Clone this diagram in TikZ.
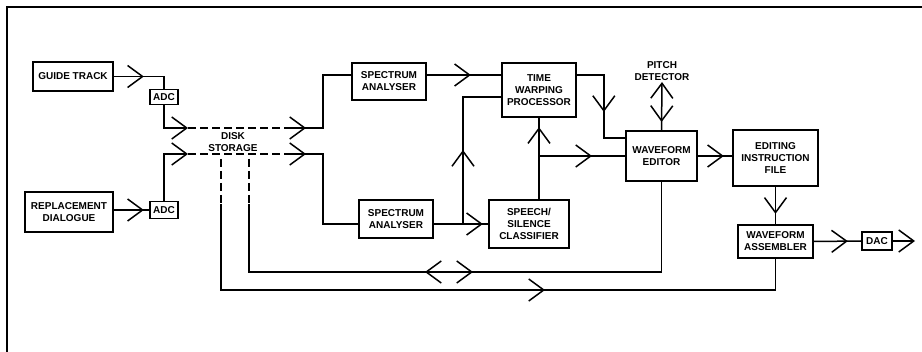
\documentclass[tikz,border=0pt]{standalone}
\usepackage{fontspec}
\setmainfont{Liberation Sans}
\usepackage{tikz}
\usetikzlibrary{arrows.meta, decorations.markings}
\newcommand{\blockfont}{\fontsize{10}{12}\selectfont\bfseries}

\begin{document}
\begin{tikzpicture}[
  x=1pt, y=-1pt,
  chev/.tip={Straight Barb[length=15pt, width=22pt]},
  box/.style={draw, line width=1.7pt, align=center, font=\blockfont, inner sep=1pt},
  lbl/.style={align=center, font=\blockfont, inner sep=1pt},
  dline/.style={line width=1.5pt, dash pattern=on 8pt off 4pt},
  midchev/.style={postaction={decorate}, decoration={markings, mark=at position #1 with {\arrow{chev}}}},
  every path/.style={line width=1.5pt}
]
  \useasboundingbox (0,0) rectangle (922,352);
  % Frame
  \draw[line width=2.4pt] (7,352) -- (7,7) -- (922,7);

  % Nodes
  \node[box, minimum width=80pt, minimum height=29pt] (gt) at (73,76.5) {GUIDE TRACK};
  \node[box, minimum width=28pt, minimum height=15pt] (adc1) at (164,97) {ADC};
  \node[box, minimum width=88pt, minimum height=40pt] (rd) at (69,212) {REPLACEMENT\\DIALOGUE};
  \node[box, minimum width=28pt, minimum height=17pt] (adc2) at (164,210) {ADC};
  \node[lbl] (disk) at (233,142) {DISK\\STORAGE};
  \node[box, minimum width=74pt, minimum height=37pt] (sa1) at (389,81.5) {SPECTRUM\\ANALYSER};
  \node[box, minimum width=74pt, minimum height=38pt] (sa2) at (396,219) {SPECTRUM\\ANALYSER};
  \node[box, minimum width=74pt, minimum height=54pt] (twp) at (539,90) {TIME\\WARPING\\PROCESSOR};
  \node[box, minimum width=80pt, minimum height=48pt] (ssc) at (529,224) {SPEECH/\\SILENCE\\CLASSIFIER};
  \node[box, minimum width=71pt, minimum height=50pt] (we) at (661.5,156) {WAVEFORM\\EDITOR};
  \node[lbl, anchor=south] (pd) at (662,82) {PITCH\\DETECTOR};
  \node[box, minimum width=85pt, minimum height=56pt] (eif) at (775.5,158) {EDITING\\INSTRUCTION\\FILE};
  \node[box, minimum width=75pt, minimum height=33pt] (wa) at (775.5,241.5) {WAVEFORM\\ASSEMBLER};
  \node[box, minimum width=30pt, minimum height=18pt] (dac) at (877,241) {DAC};

  % Points
  \coordinate (r1) at (0,75);
  \coordinate (u1) at (188,128);
  \coordinate (u2) at (284,128);
  \coordinate (l1) at (188,154);
  \coordinate (l2) at (284,154);
  \coordinate (v1) at (249,159);
  \coordinate (v1b) at (249,204);
  \coordinate (v2) at (221,159);
  \coordinate (v2b) at (221,204);
  \coordinate (c1) at (249,272);
  \coordinate (c2) at (221,290);
  \coordinate (j1) at (463,224);
  \coordinate (j2) at (twp.south |- we.west);
  \coordinate (out) at (915,241);

  % Inputs
  \draw[midchev=30pt] (gt.east) -| (adc1.north);
  \draw[midchev=30pt] (rd.east |- adc2.west) -- (adc2.west);
  \draw[-chev] (adc1.south) |- (u1);
  \draw[-chev] (adc2.north) |- (l1);

  % Disk storage
  \draw[dline] (u1) -- (u2);
  \draw[dline] (l1) -- (l2);
  \draw[dline] (v1) -- (v1b);
  \draw[dline] (v2) -- (v2b);
  \draw[midchev=22pt] (u2) -- ++(39,0) |- (sa1.west |- r1);
  \draw[midchev=22pt] (l2) -- ++(39,0) |- (sa2.west |- ssc.west);

  % Analysis
  \draw[midchev=44pt] (sa1.east |- r1) -- (twp.west |- r1);
  \draw[midchev=49pt] (sa2.east |- ssc.west) -- (ssc.west);
  \draw[midchev=74pt] (j1) |- ([yshift=-7pt]twp.west);
  \draw[midchev=72pt] (twp.south |- ssc.north) -- (twp.south);
  \draw[midchev=53pt] (j2) -- (we.west);
  \draw[midchev=64pt] (twp.east |- r1) -- ++(27,0) |- ([yshift=18pt]we.west);
  \draw[chev-, midchev=40pt] (pd.south) -- (we.north);

  % Editing
  \draw[midchev=26pt] (we.east) -- (we.east -| eif.west);
  \draw[midchev=27pt] (eif.south) -- (wa.north);
  \draw[midchev=34pt] (wa.east) -- (dac.west);
  \draw[-chev] (dac.east) -- (out);

  % Return paths
  \draw[postaction={decorate}, decoration={markings,
      mark=at position 244pt with {\arrowreversed{chev}},
      mark=at position 292pt with {\arrow{chev}}}]
    (v1b) -- (c1) -| (we.south);
  \draw[midchev=410pt] (v2b) -- (c2) -| (wa.south);
\end{tikzpicture}
\end{document}
